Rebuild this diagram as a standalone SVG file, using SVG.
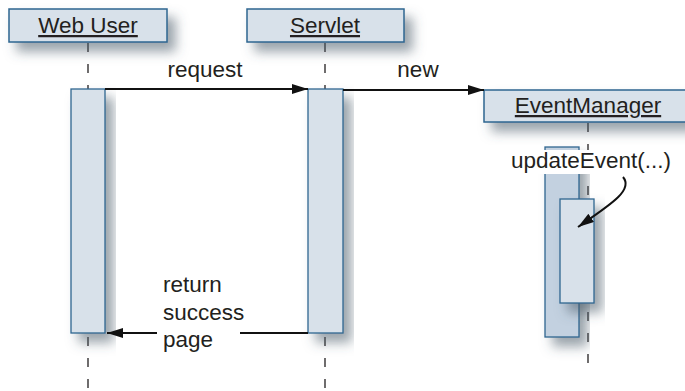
<svg xmlns="http://www.w3.org/2000/svg" width="685" height="391" viewBox="0 0 685 391">
<style>
.obj{fill:#d8e1ea;stroke:#2e6690;stroke-width:1.5}
.act{fill:#d8e1ea;stroke:#2e6690;stroke-width:1.3}
.act2{fill:#c3d1e0;stroke:#2e6690;stroke-width:1.3}
.t{font-family:"Liberation Sans",Arial,sans-serif;font-size:22.5px;fill:#231f20}
.u{text-decoration:underline}
.life{stroke:#231f20;stroke-width:1.3;stroke-dasharray:9 12;fill:none}
.msg{stroke:#111;stroke-width:2;fill:none}
</style>
<defs>
<filter id="sh" x="-30%" y="-50%" width="160%" height="220%">
<feDropShadow dx="8" dy="9" stdDeviation="6" flood-color="#4a5866" flood-opacity="0.55"/>
</filter>
<marker id="ah" viewBox="0 0 16 10" refX="16" refY="5" markerWidth="16" markerHeight="10" markerUnits="userSpaceOnUse" orient="auto">
<path d="M0,0 L16,5 L0,10 Z" fill="#111"/>
</marker>
</defs>
<rect width="685" height="391" fill="#fff"/>
<g id="lifelines">
<line class="life" x1="88" y1="43" x2="88" y2="391"/>
<line class="life" x1="325" y1="43" x2="325" y2="391"/>
<line class="life" x1="588" y1="123" x2="588" y2="368"/>
</g>
<g id="web-user">
<rect class="obj" x="9" y="9" width="158" height="33" filter="url(#sh)"/>
<text class="t u" x="88" y="33" text-anchor="middle">Web User</text>
<rect class="act" x="71" y="89" width="34" height="244" filter="url(#sh)"/>
</g>
<g id="servlet">
<rect class="obj" x="247" y="9" width="157" height="33" filter="url(#sh)"/>
<text class="t u" x="325" y="33" text-anchor="middle">Servlet</text>
<rect class="act" x="308" y="89" width="35" height="244" filter="url(#sh)"/>
</g>
<g id="event-manager">
<rect class="obj" x="484" y="90" width="210" height="32" filter="url(#sh)"/>
<text class="t u" x="588" y="113" text-anchor="middle">EventManager</text>
<rect class="act2" x="545" y="147" width="34" height="190" filter="url(#sh)"/>
<rect class="act" x="560" y="199" width="34" height="104" filter="url(#sh)"/>
</g>
<g id="connectors">
<line class="msg" x1="105" y1="89" x2="308" y2="89" marker-end="url(#ah)"/>
<line class="msg" x1="343" y1="90" x2="484" y2="90" marker-end="url(#ah)"/>
<line class="msg" x1="308" y1="333" x2="240" y2="333"/>
<line class="msg" x1="157" y1="333" x2="107" y2="333" marker-end="url(#ah)"/>
<path class="msg" d="M623,177 C634,190 610,205 578,227" stroke-width="1.6" marker-end="url(#ah)"/>
</g>
<g id="labels">
<text class="t" x="205" y="77" text-anchor="middle">request</text>
<text class="t" x="418" y="77" text-anchor="middle">new</text>
<rect x="508" y="150" width="166" height="24" fill="#fff"/>
<text class="t" x="591" y="168" text-anchor="middle">updateEvent(...)</text>
<text class="t" x="163" y="292">return</text>
<text class="t" x="163" y="320">success</text>
<text class="t" x="163" y="347">page</text>
</g>
</svg>
